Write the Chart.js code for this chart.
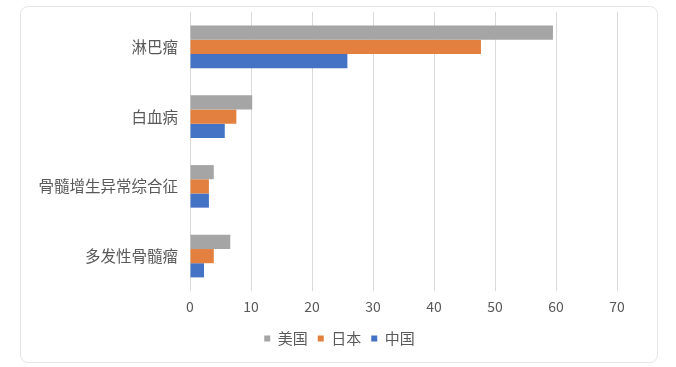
<!DOCTYPE html>
<html>
<head>
<meta charset="utf-8">
<script src="https://cdn.jsdelivr.net/npm/chart.js@4.4.1/dist/chart.umd.min.js"></script>
<style>
  body { margin: 0; background: #fff; }
  #card {
    position: absolute; left: 20px; top: 6px; width: 636px; height: 355px;
    border: 1px solid #e6e6e6; border-radius: 8px;
  }
  #chart { position: absolute; left: 0; top: 0; }
</style>
</head>
<body>
<div id="card"></div>
<canvas id="chart" width="676" height="367"></canvas>
<script>
    var categories = ['淋巴瘤', '白血病', '骨髓增生异常综合征', '多发性骨髓瘤'];
    var usValues = [59.5, 10.2, 3.9, 6.6];
    var jpValues = [47.7, 7.6, 3.1, 3.9];
    var cnValues = [25.8, 5.7, 3.1, 2.3];
    var xTicks = [0, 10, 20, 30, 40, 50, 60, 70];

    var fontFamily = '"Noto Sans CJK SC", "Noto Sans", sans-serif';
    var textColor = '#595959';

    // centre the legend in the card rather than over the plot
    var legendShift = {
        id: 'legendShift',
        afterLayout: function(chart) {
            chart.legend.left += 31;
            chart.legend.right += 31;
        }
    };

    var ctx = document.getElementById('chart').getContext('2d');

    var chart = new Chart(ctx, {
        type: 'bar',
        data: {
            labels: categories,
            datasets: [{
                label: '美国',
                backgroundColor: '#a5a5a5',
                data: usValues
            }, {
                label: '日本',
                backgroundColor: '#e3803f',
                data: jpValues
            }, {
                label: '中国',
                backgroundColor: '#4472c4',
                data: cnValues
            }]
        },
        options: {
            indexAxis: 'y',
            responsive: false,
            animation: false,
            layout: {
                padding: { top: 12, right: 59, bottom: 11, left: 0 }
            },
            scales: {
                x: {
                    min: xTicks[0],
                    max: xTicks[xTicks.length - 1],
                    afterBuildTicks: function(scale) {
                        scale.ticks = xTicks.map(function(v) { return { value: v }; });
                    },
                    afterFit: function(scale) { scale.height = 30; },
                    grid: { color: '#d9d9d9', drawTicks: false },
                    border: { display: false },
                    ticks: {
                        padding: 7,
                        color: textColor,
                        font: { family: fontFamily, size: 14 }
                    }
                },
                y: {
                    afterFit: function(scale) {
                        scale.width = 190;
                        scale.paddingTop = 0;
                        scale.paddingBottom = 0;
                    },
                    grid: { display: false, drawTicks: false },
                    border: { display: false },
                    ticks: {
                        padding: 12,
                        color: textColor,
                        font: { family: fontFamily, size: 15.5 }
                    }
                }
            },
            datasets: {
                bar: { barPercentage: 1, categoryPercentage: 0.61 }
            },
            plugins: {
                legend: {
                    position: 'bottom',
                    labels: {
                        boxWidth: 6,
                        boxHeight: 6,
                        padding: 10,
                        color: textColor,
                        font: { family: fontFamily, size: 15 }
                    }
                },
                tooltip: { enabled: false }
            }
        },
        plugins: [legendShift]
    });
</script>
</body>
</html>
